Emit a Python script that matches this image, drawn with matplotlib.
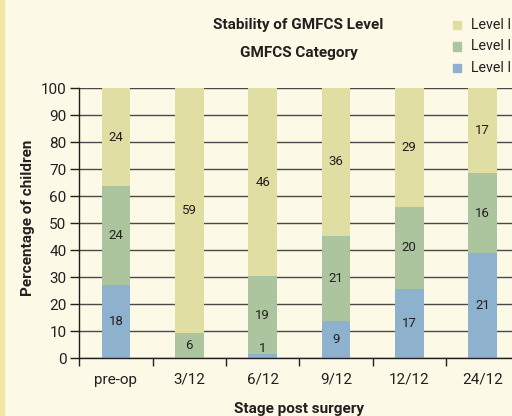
import matplotlib
matplotlib.use('Agg')
import matplotlib.pyplot as plt
from matplotlib import font_manager
from matplotlib.patches import Rectangle
import numpy as np

# counts of children per GMFCS level at each stage
stages = ['pre-op', '3/12', '6/12', '9/12', '12/12', '24/12']
level_1 = [18, 0, 1, 9, 17, 21]
level_2 = [24, 6, 19, 21, 20, 16]
level_3 = [24, 59, 46, 36, 29, 17]
legend_labels = ['Level III', 'Level II', 'Level I']

c_blue = '#8EB1CD'
c_green = '#ADC59F'
c_yellow = '#E0DEA2'
bg = '#FCF9E6'

names = {f.name for f in font_manager.fontManager.ttflist}
fam = [f for f in ['Liberation Sans Narrow', 'Roboto', 'DejaVu Sans'] if f in names]
plt.rcParams['font.family'] = fam
txt = '#231F20'

fig = plt.figure(figsize=(5.12, 4.16), dpi=100, facecolor=bg)
fig.patches.append(Rectangle((0, 0), 4 / 512, 1, transform=fig.transFigure,
                             color='#F3E6A0', zorder=0))

ax = fig.add_axes([79.3 / 512, 57.7 / 416, 440 / 512, 270 / 416])
ax.set_facecolor(bg)

counts = np.array([level_1, level_2, level_3], dtype=float)
totals = counts.sum(axis=0)
pct = counts / totals * 100
x = np.arange(len(stages))
colors = [c_blue, c_green, c_yellow]

bottom = np.zeros(len(stages))
for i in range(3):
    ax.bar(x, pct[i], 0.39, bottom=bottom, color=colors[i], zorder=3)
    for j in range(len(stages)):
        if counts[i, j] > 0:
            mid = bottom[j] + pct[i, j] / 2
            ax.text(x[j], max(mid, 3.7), '%d' % counts[i, j], ha='center', va='center',
                    fontsize=9.5, color=txt, zorder=4)
    bottom += pct[i]

ax.set_xlim(-0.5, len(stages) - 0.5)
ax.set_ylim(0, 100)
ax.set_yticks(np.arange(0, 101, 10))
ax.yaxis.grid(True, color='#4a4a4a', lw=1.0, zorder=1)
ax.set_axisbelow(True)
for s in ['top', 'right']:
    ax.spines[s].set_visible(False)
for s in ['left', 'bottom']:
    ax.spines[s].set_color('#231F20')
    ax.spines[s].set_linewidth(1.0)
    ax.spines[s].set_zorder(5)

ax.set_xticks(x)
ax.set_xticklabels(stages)
ax.set_xticks(np.arange(-0.5, len(stages), 1), minor=True)
ax.tick_params(axis='x', which='major', length=0, pad=10.5, labelsize=11, labelcolor=txt)
ax.tick_params(axis='x', which='minor', length=5.5, width=1, direction='out', color='#231F20')
ax.tick_params(axis='y', length=6.2, width=1, pad=3, labelsize=11, labelcolor=txt,
               color='#231F20')

fig.text(298.5 / 512, 1 - 25 / 416, 'Stability of GMFCS Level', ha='center', va='center',
         fontsize=11, fontweight='bold', color=txt)
fig.text(298.5 / 512, 1 - 53 / 416, 'GMFCS Category', ha='center', va='center',
         fontsize=11, fontweight='bold', color=txt)
fig.text(28 / 512, 1 - 218 / 416, 'Percentage of children', rotation=90, ha='center',
         va='center', fontsize=11, fontweight='bold', color=txt)
fig.text(298.5 / 512, 1 - 409 / 416, 'Stage post surgery', ha='center', va='center',
         fontsize=11, fontweight='bold', color=txt)

# legend, top to bottom follows the stack; the figure edge cuts it as in the original
for k, (lab, col) in enumerate(zip(legend_labels, [c_yellow, c_green, c_blue])):
    yc = 25 + k * 21.5
    fig.patches.append(Rectangle((452.7 / 512, 1 - (yc + 4.2) / 416), 8.4 / 512, 8.4 / 416,
                                 transform=fig.transFigure, color=col))
    fig.text(471 / 512, 1 - yc / 416, lab, ha='left', va='center', fontsize=10.2, color=txt)

fig.savefig('out.png', dpi=100, facecolor=bg)
